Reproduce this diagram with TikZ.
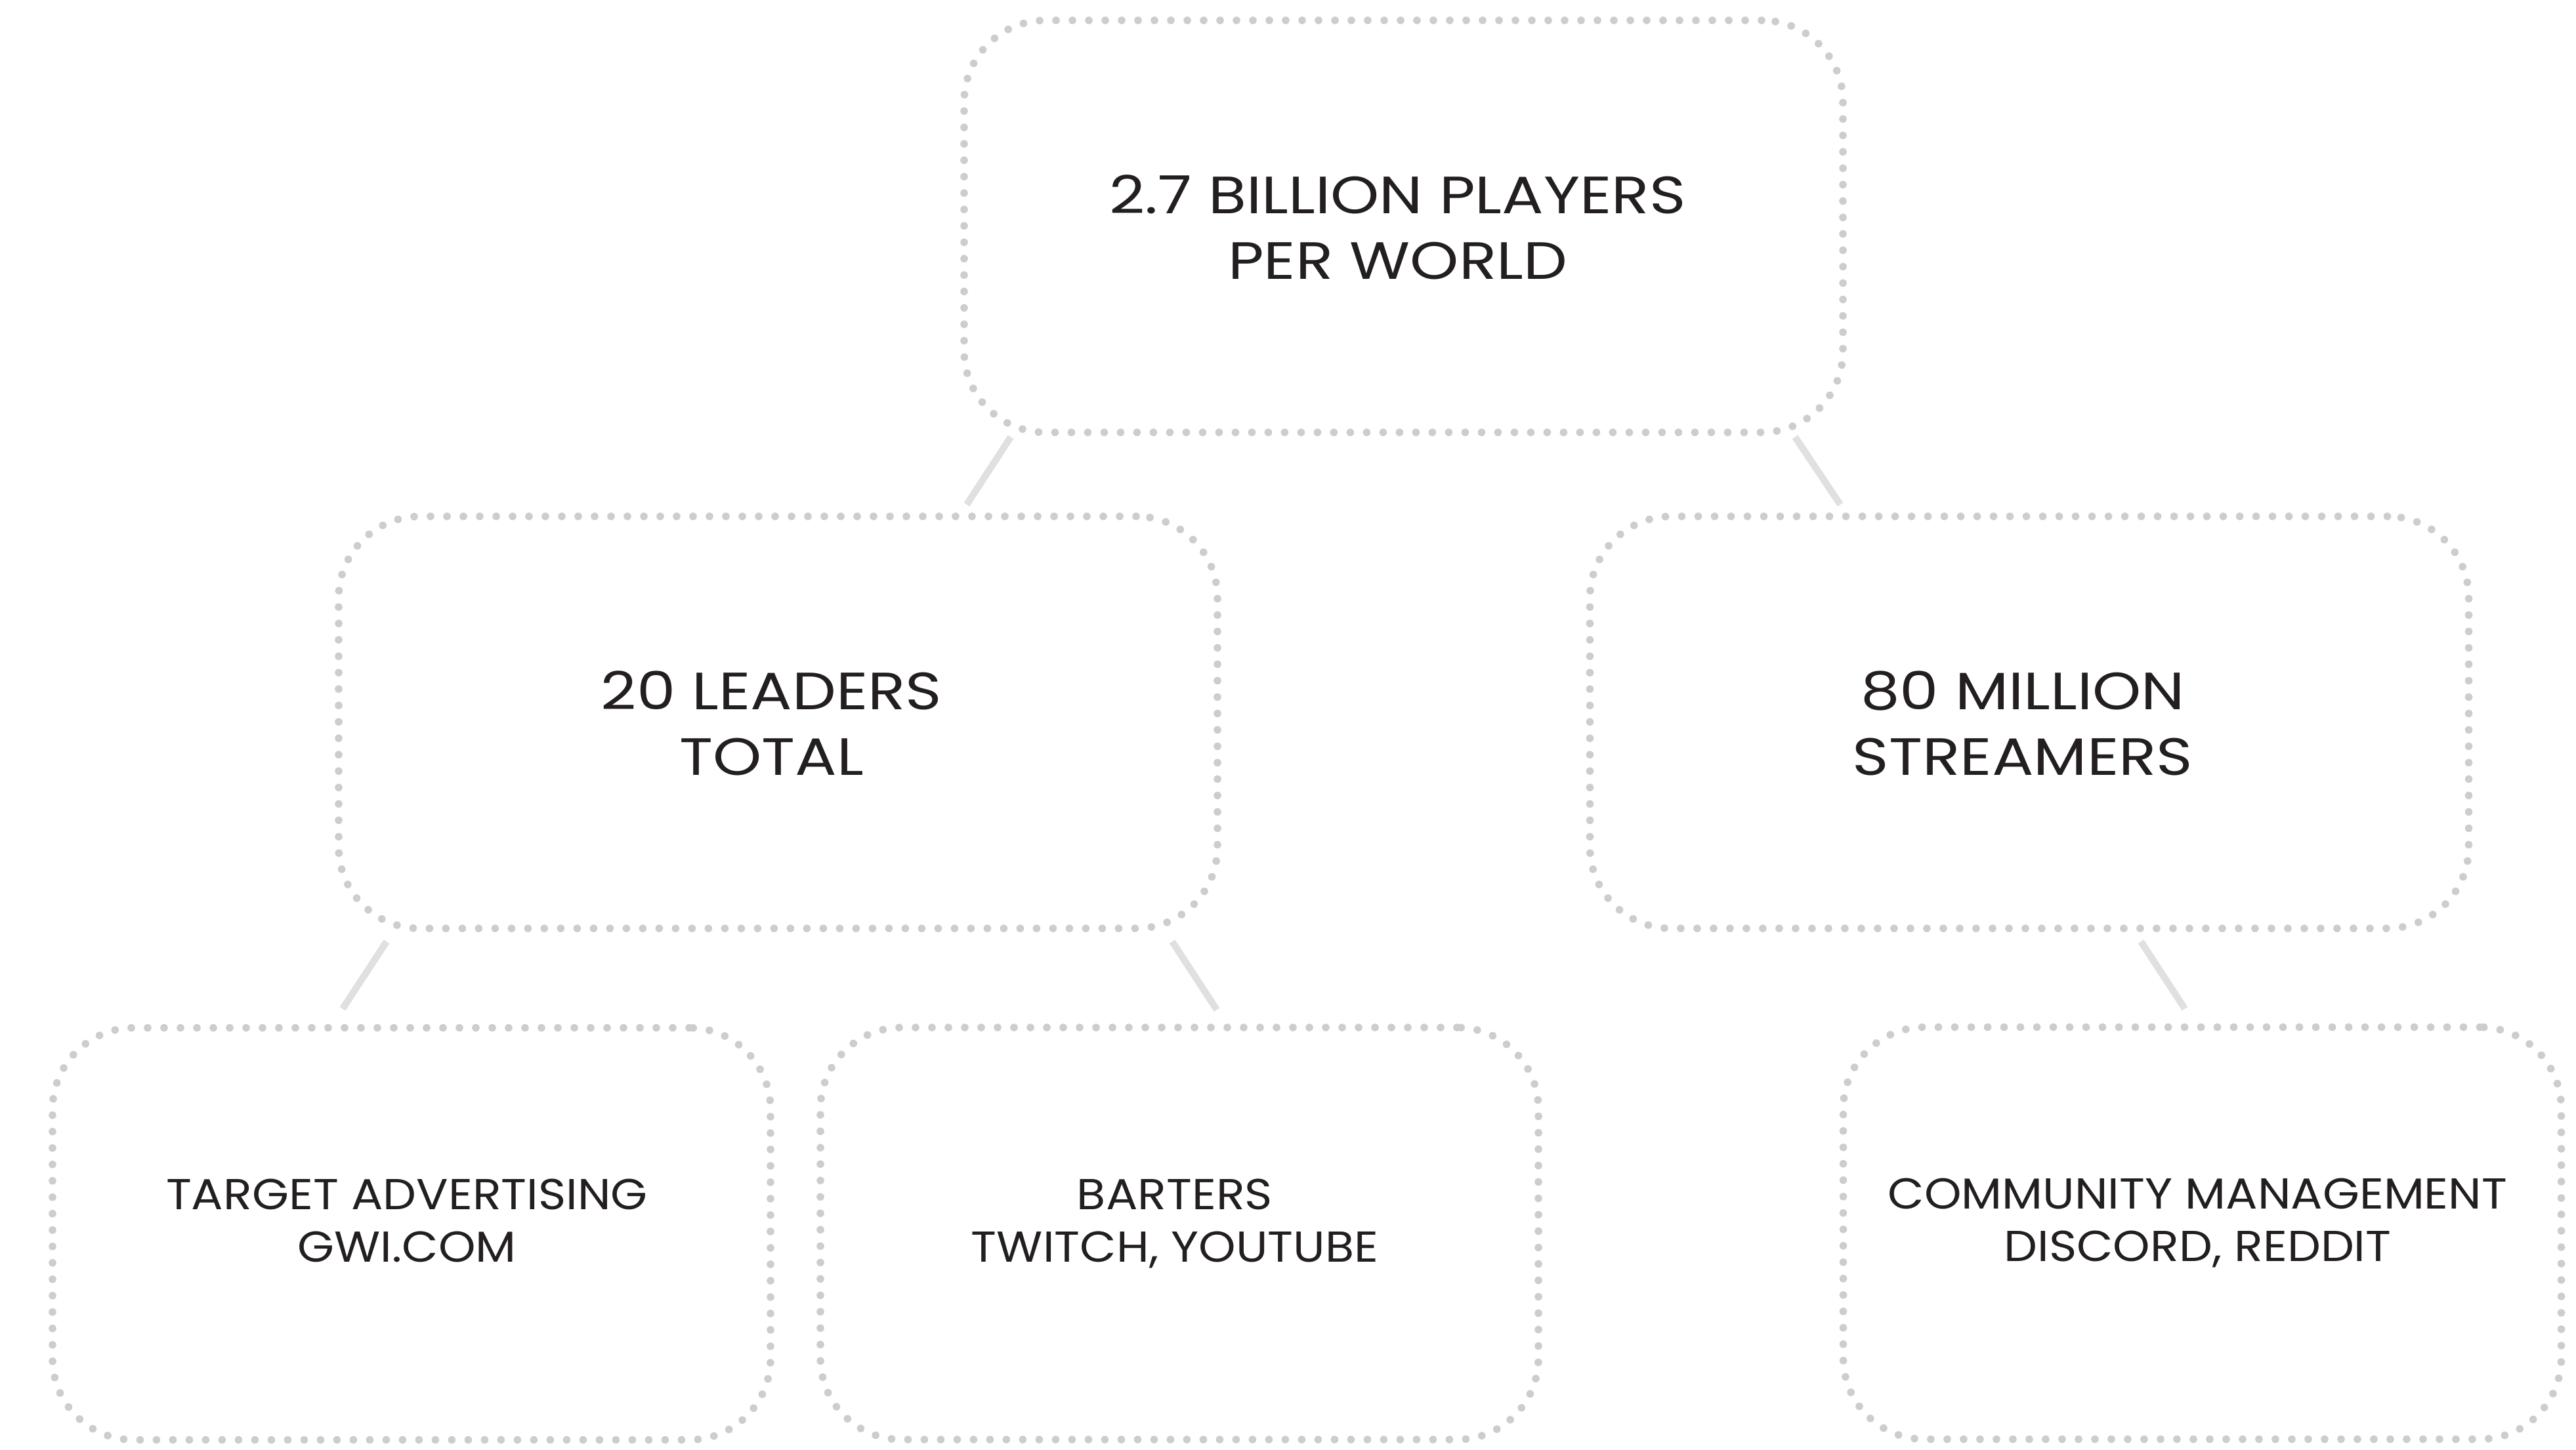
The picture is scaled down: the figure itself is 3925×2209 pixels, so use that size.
\documentclass[tikz,border=0pt]{standalone}
\usepackage{fontspec}
\setmainfont{Poppins}
\newfontfamily\bigfont[FakeStretch=1.18]{Poppins}
\newfontfamily\smallfont[FakeStretch=1.09]{Poppins}
\usetikzlibrary{calc}
\definecolor{dotgray}{HTML}{CDCDCD}
\definecolor{linegray}{HTML}{E0E0E0}
\definecolor{inkdark}{HTML}{231F20}
\tikzset{
  dotbox/.style={rectangle, draw=dotgray, line width=2.9pt, line cap=round,
    dash pattern=on 0pt off 6.25pt, rounded corners=31pt, inner sep=0pt, outer sep=0pt},
  bigbox/.style={dotbox, minimum width=334.75pt, minimum height=157pt},
  smallbox/.style={dotbox, minimum width=273.5pt, minimum height=157pt},
  bigtxt/.style={align=center, text=inkdark, inner sep=0pt, text depth=0pt,
    font=\bigfont\fontsize{20pt}{25pt}\selectfont},
  smalltxt/.style={align=center, text=inkdark, inner sep=0pt, text depth=0pt,
    font=\smallfont\fontsize{16.5pt}{20pt}\selectfont},
  conn/.style={draw=linegray, line width=2.6pt}
}
\begin{document}
\begin{tikzpicture}[x=0.25pt,y=-0.25pt]
\useasboundingbox (0,0) rectangle (3925,2209);
% boxes
\node[bigbox] (top) at (2138.5,345) {};
\node[bigbox] (midL) at (1185.5,1101) {};
\node[bigbox] (midR) at (3092,1101) {};
\node[smallbox] (b1) at (627,1880.5) {};
\node[smallbox] (b2) at (1797,1880) {};
\node[smallbox] (b3) at (3355.5,1879.5) {};
% texts
\node[bigtxt] (topt) at ($(top.center)+(-9,1)$) {2.7 BILLION PLAYERS\\PER WORLD};
\node[bigtxt] (midLt) at ($(midL.center)+(-10,1)$) {20 LEADERS\\TOTAL};
\node[bigtxt] (midRt) at ($(midR.center)+(-10,1)$) {80 MILLION\\STREAMERS};
\node[smalltxt] (b1t) at ($(b1.center)+(-7,-20)$) {TARGET ADVERTISING\\GWI.COM};
\node[smalltxt] (b2t) at ($(b2.center)+(-7,-20)$) {BARTERS\\TWITCH, YOUTUBE};
\node[smalltxt] (b3t) at ($(b3.center)+(-7,-20)$) {COMMUNITY MANAGEMENT\\DISCORD, REDDIT};
% connectors
\draw[conn] ($(top.south west)+(71,7)$) -- ($(midL.north)+(287.5,-18)$);
\draw[conn] ($(top.south east)+(-73,7)$) -- ($(midR.north)+(-288,-18)$);
\draw[conn] ($(midL.south west)+(73,20)$) -- ($(b1.north)+(-105,-29)$);
\draw[conn] ($(midL.south east)+(-69,20)$) -- ($(b2.north)+(57,-27)$);
\draw[conn] ($(midR.south)+(170,20)$) -- ($(b3.north)+(-26.5,-28)$);
\end{tikzpicture}
\end{document}
